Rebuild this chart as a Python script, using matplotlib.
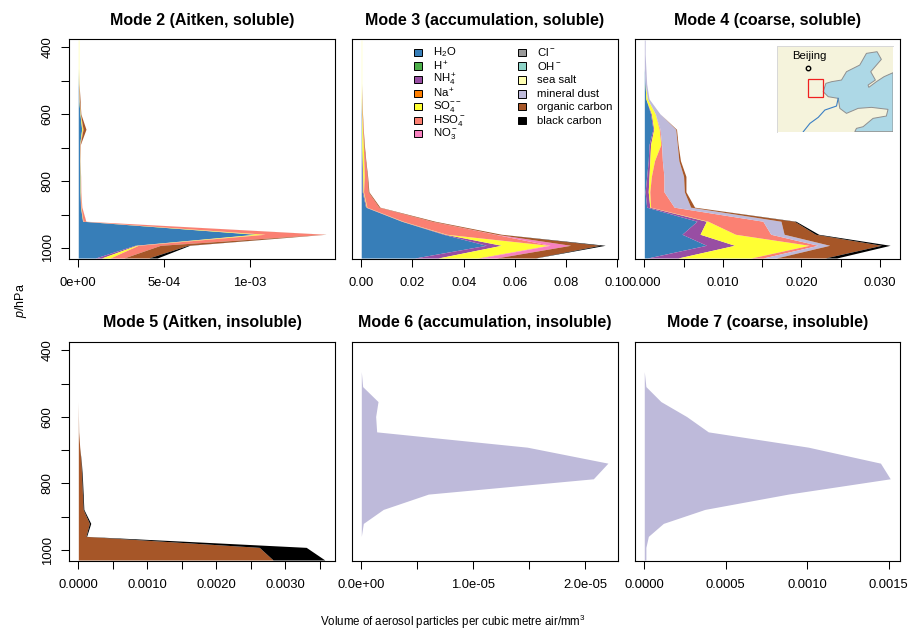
import matplotlib
matplotlib.use("Agg")
import matplotlib.pyplot as plt
from matplotlib.patches import Rectangle, Polygon
import numpy as np

plt.rcParams['font.family'] = ['Liberation Sans', 'DejaVu Sans']
plt.rcParams['mathtext.fontset'] = 'custom'
plt.rcParams['mathtext.rm'] = 'Liberation Sans'
plt.rcParams['mathtext.it'] = 'Liberation Sans:italic'
plt.rcParams['mathtext.bf'] = 'Liberation Sans:bold'
plt.rcParams['mathtext.default'] = 'regular'

W, H = 909, 629

# pressure levels, surface first
levels = [1030, 992, 959, 920, 878, 832, 786, 739, 691, 645, 599, 554, 509, 464, 420, 378]

species = ['h2o', 'hplus', 'nh4', 'na', 'so4', 'hso4', 'no3', 'cl', 'oh', 'salt', 'dust', 'oc', 'bc']
colors = ['#377EB8', '#4DAF4A', '#984EA3', '#FF7F00', '#FFFF33', '#FB8072', '#F781BF',
          '#999999', '#8DD3C7', '#FFFFB3', '#BEBADA', '#A65628', '#000000']
labels = ['H$_2$O', 'H$^+$', 'NH$_4^+$', 'Na$^+$', 'SO$_4^{--}$', 'HSO$_4^-$', 'NO$_3^-$',
          'Cl$^-$', 'OH$^-$', 'sea salt', 'mineral dust', 'organic carbon', 'black carbon']

# Mode 2, values in 1e-5 mm3
m2_h2o = [10, 33, 103, 2.5, 1.3, 1, 1, 0.8, 0.8, 2, 1, 0.3, 0.1, 0, 0, 0]
m2_nh4 = [3.6, 1, 1, 0.1, 0.1, 0.1, 0.1, 0, 0, 0, 0, 0, 0, 0, 0, 0]
m2_so4 = [5, 1, 5, 0.2, 0.2, 0.2, 0.2, 0.1, 0.1, 0.5, 0.2, 0.1, 0.1, 0, 0, 0]
m2_hso4 = [8, 13, 35, 1.5, 0.5, 0.2, 0.1, 0.1, 0.2, 0.3, 0.1, 0.1, 0, 0, 0, 0]
m2_salt = [0, 0, 0, 0, 0, 0, 0, 0, 0, 0, 0, 0.1, 0.2, 0.4, 0.4, 0.4]
m2_oc = [14.5, 16, 0.5, 0.1, 0, 0, 0, 0, 0.1, 1.7, 0.2, 0.4, 0.1, 0, 0, 0]
m2_bc = [5, 1, 0, 0, 0, 0, 0, 0, 0, 0, 0, 0, 0, 0, 0, 0]

# Mode 3
m3_h2o = [.0209, .0488, .0320, .0157, .0017, .0004, .0004, .0003, .0002, .0002, .0001, 0, 0, 0, 0, 0]
m3_nh4 = [.0091, .0059, .0008, .0003, .0003, .0003, .0002, .0001, 0, 0, 0, 0, 0, 0, 0, 0]
m3_so4 = [.0155, .0185, .0005, .0003, .0002, .0002, .0006, .0006, .0006, .0003, .0002, .0001, 0, 0, 0, 0]
m3_hso4 = [.0010, .0005, .0189, .0112, .0047, .0018, .0011, .0006, .0002, .0002, .0001, 0, 0, 0, 0, 0]
m3_no3 = [.0062, .0080, .0005, .0001, 0, 0, 0, 0, 0, 0, 0, 0, 0, 0, 0, 0]
m3_salt = [0, 0, 0, 0, 0, 0, 0, 0, 0, 0, 0, .0001, .0002, .0002, .0002, .0002]
m3_oc = [.0150, .0115, .0020, .0012, .0004, .0003, .0002, .0002, .0002, .0001, .0001, .0001, 0, 0, 0, 0]
m3_bc = [.0003, .0020, 0, 0, 0, 0, 0, 0, 0, 0, 0, 0, 0, 0, 0, 0]

# Mode 4
m4_h2o = [.0004, .0079, .0048, .0067, .0003, .0001, .0003, .0005, .0006, .0011, .0008, .0002, .0001, 0, 0, 0]
m4_nh4 = [.0039, .0036, .0023, .0012, .0004, .0004, .0003, .0002, .0002, .0001, .0001, 0, 0, 0, 0, 0]
m4_so4 = [.0093, .0095, .0045, .0002, .0001, .0002, .0003, .0006, .0013, .0007, .0005, .0002, 0, 0, 0, 0]
m4_hso4 = [.0015, .0011, .0045, .0070, .0030, .0018, .0016, .0010, .0001, .0001, 0, 0, 0, 0, 0, 0]
m4_dust = [.0017, .0015, .0017, .0023, .0021, .0026, .0025, .0021, .0020, .0020, .0006, .0002, .0002, .0002, .0001, .0001]
m4_oc = [.0062, .0066, .0040, .0017, .0005, .0002, .0003, .0002, .0001, .0001, 0, 0, 0, 0, 0, 0]
m4_bc = [.0015, .0011, .0004, .0002, 0, 0, 0, 0, 0, 0, 0, 0, 0, 0, 0, 0]

# Mode 5
m5_oc = [.00282, .00262, .00011, .00016, .00007, .00006, .00005, .00004, .00002, .000005, .000002, 0, 0, 0, 0, 0]
m5_bc = [.00075, .00068, .00001, .00002, .00001, .00001, .00001, .000005, 0, 0, 0, 0, 0, 0, 0, 0]

# Mode 6, values in 1e-6 mm3
m6_dust = [0, 0, 0, 0.18, 1.96, 5.98, 20.7, 22.0, 14.8, 1.37, 1.28, 1.49, 0.12, 0, 0, 0]

# Mode 7, values in 1e-4 mm3
m7_dust = [0.1, 0.1, 0.25, 1.17, 3.72, 8.84, 15.1, 14.5, 10.07, 3.93, 2.6, 1.02, 0.1, 0, 0, 0]

# inset map, in its own map units
map_sea_x = [805, 778, 755, 732, 730, 752, 738, 770, 757, 725, 705, 665, 650, 620, 603, 595, 610, 640,
             645, 665, 700, 740, 790, 785, 745, 715, 695, 690, 805]
map_sea_y = [128, 140, 155, 172, 165, 150, 125, 88, 65, 70, 105, 125, 150, 155, 160, 185, 200, 205,
             235, 250, 235, 232, 238, 258, 265, 290, 295, 305, 305]
river_x = [640, 635, 600, 580, 555, 535]
river_y = [205, 228, 240, 262, 280, 305]
beijing_x, beijing_y = 550, 115


def px_axes(x0, y0, x1, y1):
    return fig.add_axes([x0 / W, 1 - y1 / H, (x1 - x0) / W, (y1 - y0) / H])


def stack(ax, layers):
    # layers is a dict of species name -> values, drawn in the fixed species order
    left = np.zeros(len(levels))
    for name, col in zip(species, colors):
        if name in layers:
            right = left + np.array(layers[name], dtype=float)
            ax.fill_betweenx(levels, left, right, color=col, linewidth=0)
            left = right


fig = plt.figure(figsize=(W / 100, H / 100), dpi=100)

panels = [
    ('Mode 2 (Aitken, soluble)', (69, 39, 335, 259),
     {'h2o': np.array(m2_h2o) * 1e-5, 'nh4': np.array(m2_nh4) * 1e-5, 'so4': np.array(m2_so4) * 1e-5,
      'hso4': np.array(m2_hso4) * 1e-5, 'salt': np.array(m2_salt) * 1e-5, 'oc': np.array(m2_oc) * 1e-5,
      'bc': np.array(m2_bc) * 1e-5},
     (-5.4e-5, 1.4977e-3), [0, 5e-4, 1e-3], ['0e+00', '5e-04', '1e-03']),
    ('Mode 3 (accumulation, soluble)', (352, 39, 618, 259),
     {'h2o': m3_h2o, 'nh4': m3_nh4, 'so4': m3_so4, 'hso4': m3_hso4, 'no3': m3_no3, 'salt': m3_salt,
      'oc': m3_oc, 'bc': m3_bc},
     (-0.0036, 0.1002), [0, .02, .04, .06, .08, .10], ['0.00', '0.02', '0.04', '0.06', '0.08', '0.10']),
    ('Mode 4 (coarse, soluble)', (634.5, 39, 900, 259),
     {'h2o': m4_h2o, 'nh4': m4_nh4, 'so4': m4_so4, 'hso4': m4_hso4, 'dust': m4_dust, 'oc': m4_oc, 'bc': m4_bc},
     (-0.00125, 0.03256), [0, .005, .01, .015, .02, .025, .03], ['0.000', '', '0.010', '', '0.020', '', '0.030']),
    ('Mode 5 (Aitken, insoluble)', (69, 342, 335, 561),
     {'oc': m5_oc, 'bc': m5_bc},
     (-0.000135, 0.003717), [0, .0005, .001, .0015, .002, .0025, .003, .0035],
     ['0.0000', '', '0.0010', '', '0.0020', '', '0.0030', '']),
    ('Mode 6 (accumulation, insoluble)', (352, 342, 618, 561),
     {'dust': np.array(m6_dust) * 1e-6},
     (-8.3e-7, 2.29e-5), [0, 5e-6, 1e-5, 1.5e-5, 2e-5], ['0.0e+00', '', '1.0e-05', '', '2.0e-05']),
    ('Mode 7 (coarse, insoluble)', (634.5, 342, 900, 561),
     {'dust': np.array(m7_dust) * 1e-4},
     (-0.00006, 0.00157), [0, .0005, .001, .0015], ['0.0000', '0.0005', '0.0010', '0.0015']),
]

axes = []
for i, (title, box, layers, xlim, xticks, xlabels) in enumerate(panels):
    ax = px_axes(*box)
    stack(ax, layers)
    ax.set_xlim(*xlim)
    ax.set_ylim(1033, 375)
    ax.set_xticks(xticks)
    ax.set_xticklabels(xlabels, fontsize=9.4)
    ax.tick_params(axis='x', length=6, width=0.75, pad=7)
    if i % 3 == 0:
        ax.set_yticks([400, 500, 600, 700, 800, 900, 1000])
        ax.set_yticklabels(['400', '', '600', '', '800', '', '1000'], fontsize=9.4, rotation=90, va='center')
        ax.tick_params(axis='y', length=6, width=0.75, pad=5)
    else:
        ax.set_yticks([])
    for s in ax.spines.values():
        s.set_linewidth(0.8)
    fig.text((box[0] + box[2]) / 2 / W, 1 - (box[1] - 19) / H, title, fontsize=11.5, fontweight='bold',
             ha='center', va='center')
    axes.append(ax)

# legend in the mode 3 panel
col1_rows = [52.3, 66, 79.5, 93.3, 106.7, 120.3, 133.7]
col2_rows = [52.3, 66, 80, 94, 106.7, 120.7]
rows = [(414.3, 432.7, y) for y in col1_rows] + [(518.3, 536.7, y) for y in col2_rows]
for (px, tx, y), col, lab in zip(rows, colors, labels):
    fig.add_artist(Rectangle((px / W, 1 - (y + 3.5) / H), 8 / W, 7 / H, transform=fig.transFigure,
                             facecolor=col, edgecolor='black', linewidth=0.7))
    fig.text(tx / W, 1 - y / H, lab, fontsize=8.2, ha='left', va='center')

# inset map in the mode 4 panel
mapax = px_axes(776.7, 45.7, 893, 131.7)
mapax.set_facecolor('#F5F3DC')
mapax.add_patch(Polygon(np.column_stack([map_sea_x, map_sea_y]), closed=True, facecolor='#ADD8E6',
                        edgecolor='#8F8F8F', linewidth=0.7))
mapax.plot(river_x, river_y, color='#3B7FC4', linewidth=0.8)
mapax.add_patch(Rectangle((550, 148), 45, 54, facecolor='none', edgecolor='#F02020', linewidth=0.9))
mapax.plot([beijing_x], [beijing_y], 'o', markerfacecolor='none', markeredgecolor='black', markersize=3.2,
           markeredgewidth=1)
mapax.text(554, 77, 'Beijing', fontsize=8.2, ha='center', va='center')
mapax.set_xlim(455, 805)
mapax.set_ylim(305, 47)
mapax.set_xticks([])
mapax.set_yticks([])
for s in mapax.spines.values():
    s.set_color('#D8D8D8')
    s.set_linewidth(0.7)
mapax.spines['right'].set_visible(False)
mapax.spines['bottom'].set_visible(False)

fig.text(453 / W, 1 - 621.5 / H, 'Volume of aerosol particles per cubic metre air/mm$^3$', fontsize=8.3,
         ha='center', va='center')
fig.text(21 / W, 1 - 300 / H, '$\\mathit{p}$/hPa', fontsize=9, rotation=90, ha='center', va='center')

fig.savefig('out.png', dpi=100)
